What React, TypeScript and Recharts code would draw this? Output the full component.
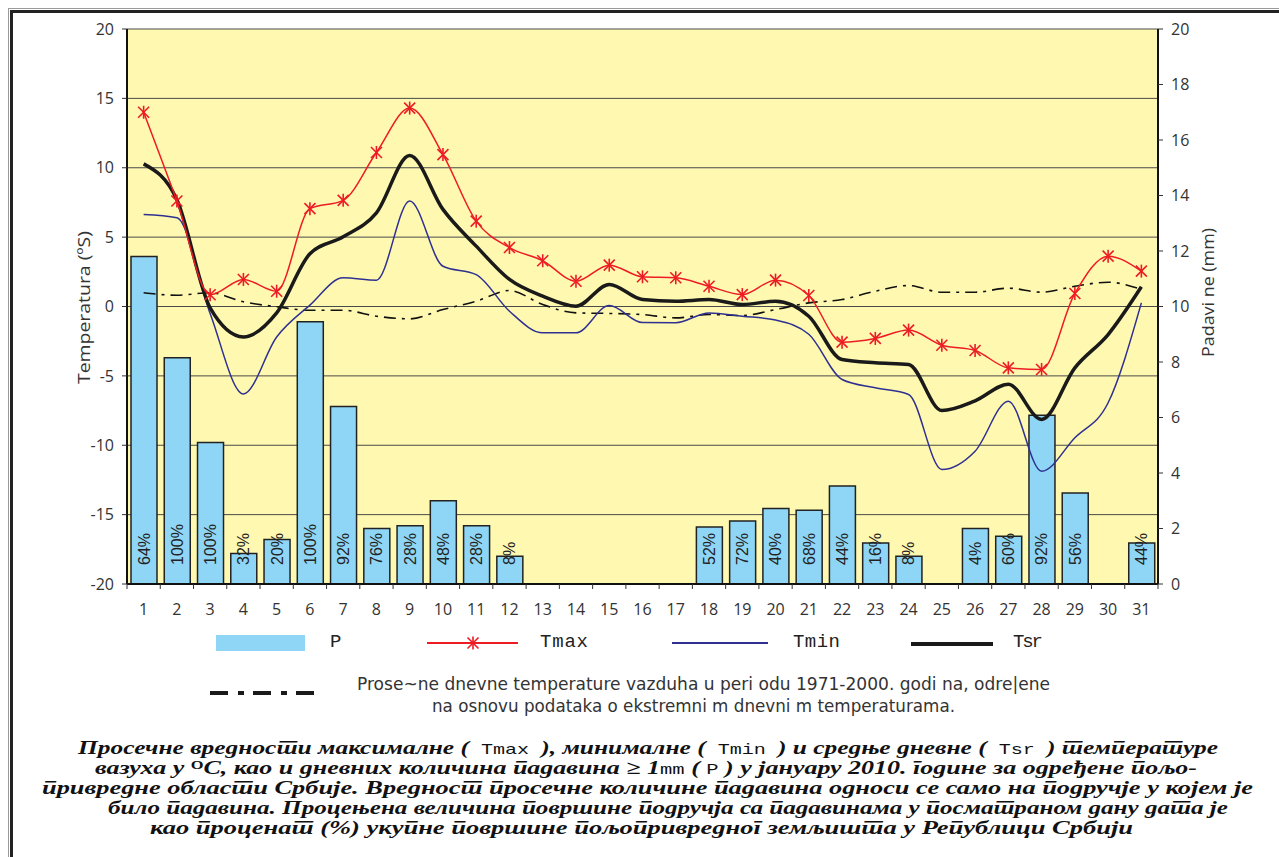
import React from 'react';
import {
  ComposedChart,
  Bar,
  Line,
  XAxis,
  YAxis,
  CartesianGrid,
  LabelList,
} from 'recharts';

// January 2010, days of the month
const days = [
  '1', '2', '3', '4', '5', '6', '7', '8', '9', '10', '11', '12', '13', '14', '15', '16',
  '17', '18', '19', '20', '21', '22', '23', '24', '25', '26', '27', '28', '29', '30', '31',
];

// precipitation (mm), right axis
const precip = [
  11.8, 8.15, 5.1, 1.1, 1.6, 9.45, 6.4, 2.0, 2.1, 3.0, 2.1, 1.0, null, null, null, null,
  null, 2.05, 2.27, 2.72, 2.66, 3.53, 1.48, 1.0, null, 2.0, 1.72, 6.08, 3.28, null, 1.48,
];

// share of agricultural land with precipitation
const coverage = [
  '64%', '100%', '100%', '32%', '20%', '100%', '92%', '76%', '28%', '48%', '28%', '8%', '', '', '', '',
  '', '52%', '72%', '40%', '68%', '44%', '16%', '8%', '', '4%', '60%', '92%', '56%', '', '44%',
];

const tMax = [
  14.0, 7.6, 0.85, 1.95, 1.1, 7.05, 7.65, 11.1, 14.3, 10.95, 6.15, 4.25, 3.3, 1.82, 2.98, 2.14,
  2.07, 1.46, 0.86, 1.9, 0.79, -2.57, -2.3, -1.7, -2.79, -3.17, -4.42, -4.54, 0.94, 3.63, 2.55,
];

const tMin = [
  6.63, 6.4, -0.5, -6.3, -2.2, 0.1, 2.07, 1.9, 7.6, 2.9, 2.3, -0.34, -1.9, -1.9, 0.07, -1.16,
  -1.17, -0.46, -0.7, -0.98, -2.0, -5.26, -5.86, -6.34, -11.75, -10.43, -6.82, -11.87, -9.46, -6.94, 0.26,
];

const tSr = [
  10.28, 7.7, -0.1, -2.19, -0.46, 3.8, 5.02, 6.75, 10.88, 7.0, 4.35, 1.95, 0.74, 0.02, 1.59, 0.5,
  0.38, 0.5, 0.14, 0.38, -0.7, -3.82, -4.06, -4.18, -7.5, -6.8, -5.6, -8.14, -4.42, -2.02, 1.42,
];

// mean daily temperature 1971-2000
const tNorm = [
  0.99, 0.81, 0.99, 0.34, -0.02, -0.27, -0.27, -0.7, -0.89, -0.22, 0.38, 1.15, 0.14, -0.46, -0.5, -0.58,
  -0.82, -0.58, -0.65, -0.22, 0.26, 0.5, 1.1, 1.51, 1.03, 1.03, 1.32, 1.03, 1.46, 1.75, 1.23,
];

const tempTicks = [-20, -15, -10, -5, 0, 5, 10, 15, 20];
const precipTicks = [0, 2, 4, 6, 8, 10, 12, 14, 16, 18, 20];

const data = days.map((day, i) => ({
  day,
  p: precip[i],
  pct: coverage[i],
  tmax: tMax[i],
  tmin: tMin[i],
  tsr: tSr[i],
  norm: tNorm[i],
}));

const PLOT_LEFT = 127;
const PLOT_RIGHT = 1158;
const BAND = (PLOT_RIGHT - PLOT_LEFT) / days.length;

const AXIS_FONT = "'Open Sans', 'DejaVu Sans', sans-serif";
const MONO = "'Liberation Mono', 'DejaVu Sans Mono', monospace";
const SERIF = "'Liberation Serif', 'DejaVu Serif', serif";

const RED = '#ED1C24';
const NAVY = '#2E3192';
const SKY = '#8FD6F6';

const DayTick = (props: any) => {
  const { x, y, payload, index } = props;
  const axisY = y - 8;
  const left = x - BAND / 2;
  return (
    <g>
      <line x1={left} x2={left} y1={axisY} y2={axisY + 5} stroke="#333" />
      {index === days.length - 1 && (
        <line x1={left + BAND} x2={left + BAND} y1={axisY} y2={axisY + 5} stroke="#333" />
      )}
      <text x={x} y={axisY + 31} textAnchor="middle" fontSize={16} fill="#333" fontFamily={AXIS_FONT}>
        {payload.value}
      </text>
    </g>
  );
};

const StarDot = (props: any) => {
  const { cx, cy, index } = props;
  if (cx == null || cy == null) return <g key={`s${index}`} />;
  return (
    <g key={`s${index}`} stroke={RED} strokeWidth={1.6}>
      <line x1={cx - 5.5} y1={cy - 5.5} x2={cx + 5.5} y2={cy + 5.5} />
      <line x1={cx - 5.5} y1={cy + 5.5} x2={cx + 5.5} y2={cy - 5.5} />
      <line x1={cx} y1={cy - 6.5} x2={cx} y2={cy + 6.5} />
    </g>
  );
};

const PctLabel = (props: any) => {
  const vb = props.viewBox ?? props;
  const { x, y, width, height } = vb;
  if (!props.value || x == null) return null;
  const cx = x + width / 2;
  const base = y + height - 19;
  return (
    <text
      x={cx}
      y={base}
      transform={`rotate(-90 ${cx} ${base})`}
      dominantBaseline="central"
      fontSize={16}
      fill="#222"
      fontFamily="'Liberation Sans', Arial, sans-serif"
    >
      {props.value}
    </text>
  );
};

const AxisTitle = (props: any) => {
  const { viewBox, text, dx, dy, len } = props;
  const cx = viewBox.x + dx;
  const cy = viewBox.y + viewBox.height / 2 + dy;
  return (
    <text
      x={cx}
      y={cy}
      transform={`rotate(-90 ${cx} ${cy})`}
      textAnchor="middle"
      dominantBaseline="central"
      fontSize={16}
      fill="#333"
      fontFamily={AXIS_FONT}
      textLength={len}
      lengthAdjust="spacingAndGlyphs"
    >
      {text}
    </text>
  );
};

const mono = { fontFamily: MONO, fontWeight: 'normal', fontStyle: 'normal', fontSize: 15 } as const;

const LegendAndCaption = () => (
  <svg
    width={1279}
    height={857}
    style={{ position: 'absolute', left: 0, top: 0, pointerEvents: 'none' }}
  >
    {/* legend row 1 */}
    <rect x={216} y={635} width={89} height={16} fill={SKY} />
    <text x={330} y={647} fontFamily={MONO} fontSize={19} fill="#222">P</text>

    <line x1={427} x2={518} y1={643} y2={643} stroke={RED} strokeWidth={2} />
    <StarDot cx={473} cy={643} index={0} />
    <text x={540} y={647} fontFamily={MONO} fontSize={19} fill="#222" textLength={48}>Tmax</text>

    <line x1={672} x2={768} y1={643} y2={643} stroke={NAVY} strokeWidth={2} />
    <text x={793} y={647} fontFamily={MONO} fontSize={19} fill="#222" textLength={47}>Tmin</text>

    <line x1={911} x2={993} y1={644} y2={644} stroke="#1a1a1a" strokeWidth={4} />
    <text x={1013} y={647} fontFamily={MONO} fontSize={19} fill="#222" textLength={30}>Tsr</text>

    {/* legend row 2 */}
    <line x1={210} x2={315} y1={693} y2={693} stroke="#1a1a1a" strokeWidth={4} strokeDasharray="18 10 6 9" />
    <text x={357} y={690} fontFamily="'DejaVu Sans', sans-serif" fontSize={17} fill="#333" textLength={693} lengthAdjust="spacingAndGlyphs">
      Prose~ne dnevne temperature vazduha u peri odu 1971-2000. godi na, odre|ene
    </text>
    <text x={432} y={712} fontFamily="'DejaVu Sans', sans-serif" fontSize={17} fill="#333" textLength={523} lengthAdjust="spacingAndGlyphs">
      na osnovu podataka o ekstremni m dnevni m temperaturama.
    </text>

    {/* caption */}
    <g fontFamily={SERIF} fontWeight="bold" fontStyle="italic" fontSize={19} fill="#111">
      <text x={78} y={754} textLength={1140} lengthAdjust="spacingAndGlyphs">
        Просечне вредности максималне (
        <tspan {...mono}> Tmax </tspan>
        ), минималне (
        <tspan {...mono}> Tmin </tspan>
        ) и средње дневне (
        <tspan {...mono}> Tsr </tspan>
        ) температуре
      </text>
      <text x={95} y={774} textLength={1102} lengthAdjust="spacingAndGlyphs">
        вазуха у <tspan dy={-5} fontSize={12} fontStyle="normal">O</tspan>
        <tspan dy={5}>C, као и дневних количина падавина ≥ 1</tspan>
        <tspan {...mono}>mm</tspan>
        {'  ( '}
        <tspan {...mono}>P</tspan>
        {' ) у јануару 2010. године за одређене  пољо-'}
      </text>
      <text x={42} y={794} textLength={1211} lengthAdjust="spacingAndGlyphs">
        привредне области Србије. Вредност просечне количине падавина односи се само на подручје у којем је
      </text>
      <text x={108} y={814} textLength={1120} lengthAdjust="spacingAndGlyphs">
        било падавина. Процењена величина површине подручја са падавинама у посматраном дану дата је
      </text>
      <text x={150} y={834} textLength={983} lengthAdjust="spacingAndGlyphs">
        као проценат (%) укупне површине пољопривредног земљишта у Републици Србији
      </text>
    </g>
  </svg>
);

export default function App() {
  return (
    <div lang="sr" style={{ position: 'relative', width: 1279, height: 857, overflow: 'hidden', background: '#fff' }}>
      <style>{'body{margin:0;overflow:hidden}'}</style>
      {/* double frame */}
      <div style={{ position: 'absolute', left: 8, top: 8, width: 1400, height: 1000, border: '1px solid #9a9a9a' }} />
      <div style={{ position: 'absolute', left: 10, top: 10, width: 1400, height: 1000, border: '3px solid #222' }} />

      <div style={{ position: 'absolute', left: 0, top: 0 }}>
        <ComposedChart
          width={1279}
          height={625}
          data={data}
          margin={{ top: 29, right: 61, bottom: 11, left: 67 }}
        >
          <CartesianGrid yAxisId="t" vertical={false} stroke="#4a4a4a" fill="#FFF8B0" fillOpacity={1} />
          <XAxis
            dataKey="day"
            interval={0}
            height={30}
            tickSize={6}
            tickMargin={2}
            tickLine={false}
            axisLine={{ stroke: '#111', strokeWidth: 2 }}
            tick={<DayTick />}
          />
          <YAxis
            yAxisId="t"
            domain={[-20, 20]}
            ticks={tempTicks}
            width={60}
            tickSize={5}
            tickMargin={8}
            axisLine={{ stroke: '#111', strokeWidth: 2 }}
            tickLine={{ stroke: '#333' }}
            tick={{ fontSize: 16, fill: '#333', fontFamily: AXIS_FONT }}
            label={<AxisTitle text="Temperatura (ºS)" dx={17} dy={1} len={153} />}
          />
          <YAxis
            yAxisId="p"
            orientation="right"
            domain={[0, 20]}
            ticks={precipTicks}
            width={60}
            tickSize={5}
            tickMargin={8}
            axisLine={{ stroke: '#111', strokeWidth: 2 }}
            tickLine={{ stroke: '#333' }}
            tick={{ fontSize: 16, fill: '#333', fontFamily: AXIS_FONT }}
            label={<AxisTitle text="Padavi ne (mm)" dx={50} dy={-14} len={129} />}
          />
          <Bar
            yAxisId="p"
            dataKey="p"
            barSize={26}
            fill={SKY}
            stroke="#222"
            strokeWidth={1.5}
            isAnimationActive={false}
          >
            <LabelList dataKey="pct" content={<PctLabel />} />
          </Bar>
          <Line
            yAxisId="t"
            dataKey="norm"
            type="monotone"
            stroke="#111"
            strokeWidth={1.6}
            strokeDasharray="12 6 3 6"
            dot={false}
            activeDot={false}
            isAnimationActive={false}
          />
          <Line
            yAxisId="t"
            dataKey="tmin"
            type="monotone"
            stroke={NAVY}
            strokeWidth={1.5}
            dot={false}
            activeDot={false}
            isAnimationActive={false}
          />
          <Line
            yAxisId="t"
            dataKey="tsr"
            type="monotone"
            stroke="#1a1a1a"
            strokeWidth={3.5}
            dot={false}
            activeDot={false}
            isAnimationActive={false}
          />
          <Line
            yAxisId="t"
            dataKey="tmax"
            type="monotone"
            stroke={RED}
            strokeWidth={1.5}
            dot={<StarDot />}
            activeDot={false}
            isAnimationActive={false}
          />
        </ComposedChart>
      </div>
      <LegendAndCaption />
    </div>
  );
}
